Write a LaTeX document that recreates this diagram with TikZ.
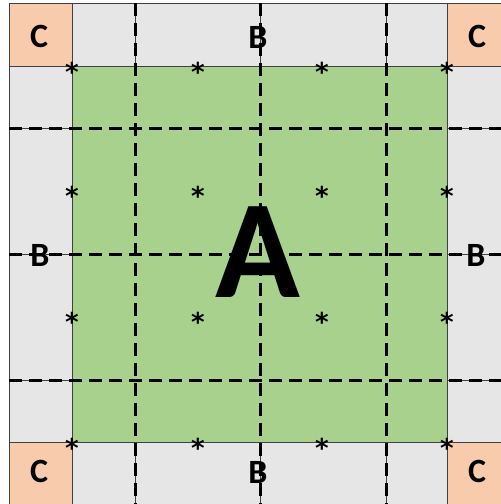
\documentclass[tikz,border=0pt]{standalone}
\usepackage{fontspec}
\setmainfont{Carlito}
\newfontfamily\starfont{DejaVu Sans}
\definecolor{cOrange}{RGB}{248,203,173}
\definecolor{cGray}{RGB}{231,230,230}
\definecolor{cGreen}{RGB}{169,209,142}
\begin{document}
\begin{tikzpicture}[x=1pt,y=-1pt,
  thinline/.style={draw=black!75,line width=0.8pt},
  dashline/.style={draw=black,line width=3pt,dash pattern=on 13pt off 7pt},
  letter/.style={font=\fontsize{34}{34}\selectfont\bfseries,inner sep=0pt},
  bigletter/.style={font=\fontsize{140}{140}\selectfont\bfseries,inner sep=0pt},
  star/.style={font=\starfont\bfseries\fontsize{26}{26}\selectfont,inner sep=0pt,anchor=base,yshift=-15pt}]
\useasboundingbox (0,0) rectangle (501,504);
\clip (0,0) rectangle (501,504);
% fills
\fill[cGray] (9,3) rectangle (510,505);
\fill[cGreen] (72,66) rectangle (447,442);
\fill[cOrange] (9,3) rectangle (72,66);
\fill[cOrange] (447,3) rectangle (510,66);
\fill[cOrange] (9,442) rectangle (72,505);
\fill[cOrange] (447,442) rectangle (510,505);
% thin outer ring grid
\draw[thinline] (9,3) rectangle (510,505);
\draw[thinline] (72,66) rectangle (447,442);
\foreach \x in {72,135,260,386,447} {
  \draw[thinline] (\x,3) -- (\x,66);
  \draw[thinline] (\x,442) -- (\x,505);
}
\foreach \y in {66,128,254,380,442} {
  \draw[thinline] (9,\y) -- (72,\y);
  \draw[thinline] (447,\y) -- (510,\y);
}
% dashed lines
\foreach \x in {135,260,386} \draw[dashline] (\x,3) -- (\x,505);
\foreach \y in {128,254,380} \draw[dashline] (9,\y) -- (510,\y);
% labels
\node[letter] (c1) at (39,36) {C};
\node[letter] (c2) at (477,36) {C};
\node[letter] (c3) at (39,471) {C};
\node[letter] (c4) at (477,471) {C};
\node[letter] (bt) at (258,37) {B};
\node[letter] (bb) at (258,472) {B};
\node[letter] (bl) at (40,255) {B};
\node[letter] (br) at (476,255) {B};
\node[bigletter] (a) at (258,252) {A};
% asterisks
\foreach \x [count=\i] in {72,198,322,447}
  \foreach \y [count=\j] in {66,190,316,442}
    \node[star] (s\i\j) at (\x,\y) {*};
\end{tikzpicture}
\end{document}
